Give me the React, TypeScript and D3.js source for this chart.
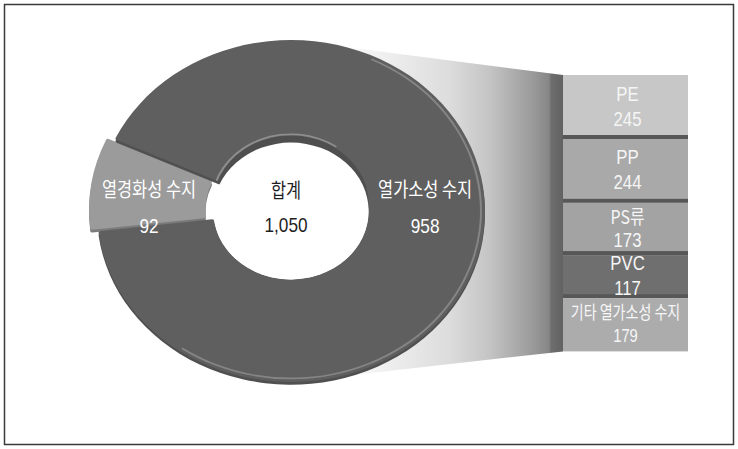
import React from 'react';
import * as d3 from 'd3';

// ---- data ----
const mainCategories = ['열경화성 수지', '열가소성 수지'];
const mainValues = [92, 958];
const totalLabel = '합계';
const barCategories = ['PE', 'PP', 'PS류', 'PVC', '기타 열가소성 수지'];
const barValues = [245, 244, 173, 117, 179];
const barColors = ['#c7c7c7', '#a9a9a9', '#a3a3a3', '#6f6f6f', '#acacac'];
const sliceColors = ['#9b9b9b', '#5f5f5f'];

const W = 738;
const H = 449;
const CJK = "'Noto Sans CJK KR', sans-serif";
const LATIN = "'Liberation Sans', Arial, sans-serif";
const HANGUL = /[\uac00-\ud7a3]/;

function Lines({ x, y, lines, gap, fill, size = 20, sx = 0.82 }: any) {
  const n = lines.length;
  return (
    <g>
      {lines.map((t: string, i: number) => {
        const hasK = HANGUL.test(t);
        return (
          <text
            key={i}
            transform={`translate(${x},${y + (i - (n - 1) / 2) * gap}) scale(${sx},1)`}
            textAnchor="middle"
            dominantBaseline="central"
            fontFamily={hasK ? CJK : LATIN}
            fontSize={hasK ? size : size + 1}
            fill={fill}
          >
            {t}
          </text>
        );
      })}
    </g>
  );
}

export default function App() {
  const cx = 291, cy = 211;
  const R = 194;
  const ky = 171 / 194;
  const rIn = R * 0.4;
  const total = d3.sum(mainValues);
  const fmt = d3.format(',');

  const setSpan = (mainValues[0] / total) * 2 * Math.PI;
  const setMid = (279 * Math.PI) / 180;
  const a0 = setMid - setSpan / 2;
  const pie = d3.pie<number>().sort(null).startAngle(a0).endAngle(a0 + 2 * Math.PI);
  const arcs = pie(mainValues);
  const arcGen = d3.arc<any>().innerRadius(rIn).outerRadius(R).cornerRadius(2);
  const midR = (rIn + R) / 2;
  const explode = 8;

  // bar of pie
  const barX0 = 563, barX1 = 688, barTop = 75;
  const hScale = d3.scaleLinear().domain([0, d3.max(barValues) as number]).range([24, 64]);
  const heights = barValues.map((v) => hScale(v));
  const tops = heights.map((_, i) => barTop + d3.sum(heights.slice(0, i)));
  const barBottom = barTop + d3.sum(heights);
  const barCx = (barX0 + barX1) / 2;

  const gStops: [number, string][] = [
    [330, '#ffffff'], [450, '#dcdcdc'], [490, '#c4c4c4'], [533, '#9a9a9a'],
    [549, '#868686'], [551, '#6e6e6e'], [563, '#626262'],
  ];
  const gx = d3.scaleLinear().domain([300, 563]).range([0, 1]);

  const holeShift = 7;
  const wallArc = d3.arc<any>()
    .innerRadius(rIn + 0.5)
    .outerRadius(rIn + 2.5)
    .startAngle((-80 * Math.PI) / 180)
    .endAngle((35 * Math.PI) / 180);
  const rimArc = d3.arc<any>()
    .innerRadius(R - 5)
    .outerRadius(R - 3)
    .startAngle((25 * Math.PI) / 180)
    .endAngle((215 * Math.PI) / 180);

  return (
    <svg width={W} height={H} style={{ position: 'absolute', left: 0, top: 0, background: '#fff' }}>
      <defs>
        <linearGradient id="conn" gradientUnits="userSpaceOnUse" x1={300} y1={0} x2={563} y2={0}>
          {gStops.map(([x, c], i) => (
            <stop key={i} offset={gx(x)} stopColor={c} />
          ))}
        </linearGradient>
        <clipPath id="mainClip">
          <path d={arcGen(arcs[1]) as string} />
        </clipPath>
      </defs>
      <rect x={4.5} y={4.5} width={729} height={440} fill="#fff" stroke="#3a3a3a" strokeWidth={1.5} />

      {/* connector */}
      <path
        d={`M${cx},${cy - R * ky} L${barX0},${barTop} L${barX0},${barBottom} L${cx},${cy + R * ky} Z`}
        fill="url(#conn)"
      />

      {/* bar */}
      {barValues.map((v, i) => (
        <g key={i}>
          <rect x={barX0} y={tops[i]} width={barX1 - barX0} height={heights[i]} fill={barColors[i]} />
          {i < barValues.length - 1 && (
            <rect x={barX0} y={tops[i] + heights[i] - 4} width={barX1 - barX0} height={4} fill="#575757" />
          )}
        </g>
      ))}
      {barValues.map((v, i) => {
        const long = barCategories[i].length > 6;
        return (
          <Lines
            key={'l' + i}
            x={barCx + (long ? 0 : 2)}
            y={tops[i] + heights[i] / 2 - 1}
            lines={[barCategories[i], fmt(v)]}
            gap={25}
            size={long ? 18 : 19}
            fill="#f6f6f6"
            sx={long ? 0.78 : 0.84}
          />
        );
      })}

      {/* donut */}
      <g transform={`translate(${cx},${cy}) scale(1,${ky})`}>
        {arcs.map((a, i) => {
          const mid = (a.startAngle + a.endAngle) / 2;
          const e = i === 0 ? explode : 0;
          const dx = Math.sin(mid) * e;
          const dy = -Math.cos(mid) * e;
          return (
            <g key={i} transform={`translate(${dx},${dy})`}>
              <path d={arcGen(a) as string} transform="translate(0,3)" fill={i === 0 ? '#7b7b7b' : '#505050'} />
              <path d={arcGen(a) as string} fill={sliceColors[i]} />
            </g>
          );
        })}
        <g clipPath="url(#mainClip)">
          <ellipse cx={0} cy={-holeShift / ky} rx={rIn} ry={rIn} fill="#4f4f4f" />
          <path d={wallArc(null) as string} transform={`translate(0,${-holeShift / ky})`} fill="#8e8e8e" />
          <path d={rimArc(null) as string} fill="#858585" />
        </g>
        <circle cx={0} cy={0} r={rIn} fill="#fff" />
      </g>

      {/* donut labels */}
      {arcs.map((a, i) => {
        const mid = (a.startAngle + a.endAngle) / 2;
        const e = i === 0 ? explode : 0;
        const x = cx + Math.sin(mid) * (midR + e);
        return (
          <Lines
            key={'d' + i}
            x={x}
            y={cy - 4}
            lines={[mainCategories[i], fmt(mainValues[i])]}
            gap={37}
            fill="#ffffff"
          />
        );
      })}
      <Lines x={cx - 5} y={cy - 4} lines={[totalLabel, fmt(total)]} gap={35} fill="#1e1e1e" />
    </svg>
  );
}
